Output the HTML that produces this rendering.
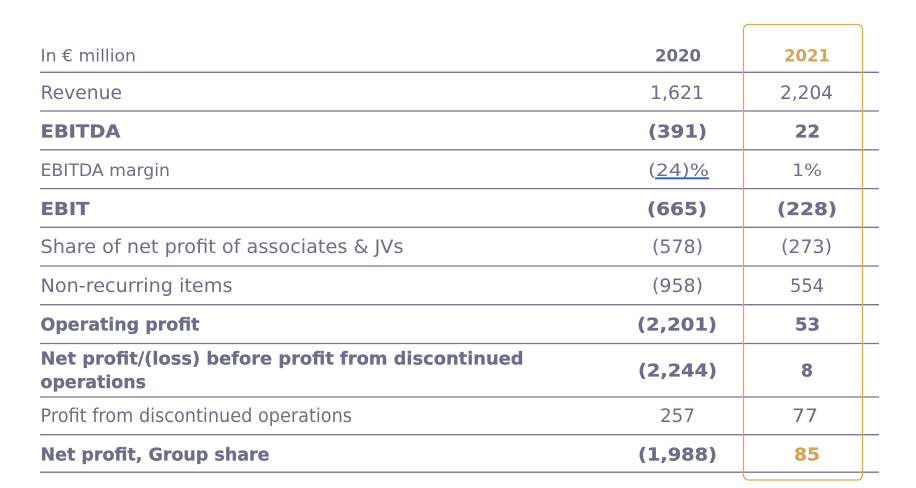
<!DOCTYPE html>
<html>
<head>
<meta charset="utf-8">
<style>
  html,body{margin:0;padding:0;background:#fff;}
  svg{display:block;}
  text{font-family:"DejaVu Sans","Liberation Sans",sans-serif;fill:#6d6d87;}
  .b{font-weight:bold;}
  .n{font-size:18.5px;}
  .bb{font-size:18px;font-weight:bold;stroke:#6d6d87;stroke-width:0.25px;}
  .s{font-size:17px;}
  .g{fill:#d6a45a;}
  .bb.g{stroke:#d6a45a;}
</style>
</head>
<body>
<svg width="916" height="488" viewBox="0 0 916 488" xmlns="http://www.w3.org/2000/svg">
  <g stroke="#78788c" stroke-width="1.3">
    <line x1="40" y1="72.3" x2="879" y2="72.3"/>
    <line x1="40" y1="111" x2="879" y2="111"/>
    <line x1="40" y1="149.8" x2="879" y2="149.8"/>
    <line x1="40" y1="188.6" x2="879" y2="188.6"/>
    <line x1="40" y1="227.3" x2="879" y2="227.3"/>
    <line x1="40" y1="266" x2="879" y2="266"/>
    <line x1="40" y1="304.7" x2="879" y2="304.7"/>
    <line x1="40" y1="343.5" x2="879" y2="343.5"/>
    <line x1="40" y1="397" x2="879" y2="397"/>
    <line x1="40" y1="434.7" x2="879" y2="434.7"/>
    <line x1="40" y1="472.2" x2="879" y2="472.2"/>
  </g>

  <!-- Header -->
  <text class="s" x="40.5" y="61.7" textLength="95.5" lengthAdjust="spacingAndGlyphs">In € million</text>
  <text class="s b" x="655" y="61.7" textLength="46" lengthAdjust="spacingAndGlyphs">2020</text>
  <text class="s b g" x="784" y="61.7" textLength="46" lengthAdjust="spacingAndGlyphs">2021</text>

  <!-- Revenue -->
  <text class="n" x="40.5" y="99" textLength="81.5" lengthAdjust="spacingAndGlyphs">Revenue</text>
  <text class="n" x="650" y="99" textLength="54" lengthAdjust="spacingAndGlyphs">1,621</text>
  <text class="n" x="780" y="99" textLength="53" lengthAdjust="spacingAndGlyphs">2,204</text>

  <!-- EBITDA -->
  <text class="bb" x="40.5" y="137.5" textLength="80" lengthAdjust="spacingAndGlyphs">EBITDA</text>
  <text class="bb" x="648" y="137.5" textLength="59" lengthAdjust="spacingAndGlyphs">(391)</text>
  <text class="bb" x="795" y="137.5" textLength="25" lengthAdjust="spacingAndGlyphs">22</text>

  <!-- EBITDA margin -->
  <text class="s" x="40.5" y="176" textLength="129.5" lengthAdjust="spacingAndGlyphs">EBITDA margin</text>
  <text class="s" x="648" y="176" textLength="61" lengthAdjust="spacingAndGlyphs">(24)%</text>
  <rect x="655" y="177.3" width="54" height="2" fill="#2f63d6"/>
  <text class="s" x="792" y="176" textLength="30" lengthAdjust="spacingAndGlyphs">1%</text>

  <!-- EBIT -->
  <text class="bb" x="40.5" y="214.8" textLength="49" lengthAdjust="spacingAndGlyphs">EBIT</text>
  <text class="bb" x="647" y="214.8" textLength="60" lengthAdjust="spacingAndGlyphs">(665)</text>
  <text class="bb" x="777" y="214.8" textLength="60" lengthAdjust="spacingAndGlyphs">(228)</text>

  <!-- Share -->
  <text class="n" x="40.5" y="253" textLength="363" lengthAdjust="spacingAndGlyphs">Share of net profit of associates &amp; JVs</text>
  <text class="n" x="652" y="253" textLength="51" lengthAdjust="spacingAndGlyphs">(578)</text>
  <text class="n" x="781" y="253" textLength="51" lengthAdjust="spacingAndGlyphs">(273)</text>

  <!-- Non-recurring -->
  <text class="n" x="40.5" y="292" textLength="192" lengthAdjust="spacingAndGlyphs">Non-recurring items</text>
  <text class="n" x="652" y="292" textLength="51" lengthAdjust="spacingAndGlyphs">(958)</text>
  <text class="n" x="790" y="292" textLength="34" lengthAdjust="spacingAndGlyphs">554</text>

  <!-- Operating profit -->
  <text class="bb" x="40.5" y="330.5" textLength="159" lengthAdjust="spacingAndGlyphs">Operating profit</text>
  <text class="bb" x="637" y="330.5" textLength="80" lengthAdjust="spacingAndGlyphs">(2,201)</text>
  <text class="bb" x="795" y="330.5" textLength="25" lengthAdjust="spacingAndGlyphs">53</text>

  <!-- Net profit before -->
  <text class="bb" x="40.5" y="364.3" textLength="483" lengthAdjust="spacingAndGlyphs">Net profit/(loss) before profit from discontinued</text>
  <text class="bb" x="40.5" y="387.8" textLength="105.5" lengthAdjust="spacingAndGlyphs">operations</text>
  <text class="bb" x="638" y="376.3" textLength="79" lengthAdjust="spacingAndGlyphs">(2,244)</text>
  <text class="bb" x="801" y="376.3" textLength="12" lengthAdjust="spacingAndGlyphs">8</text>

  <!-- Profit from discontinued -->
  <text class="n" x="40.5" y="422" textLength="311.5" lengthAdjust="spacingAndGlyphs">Profit from discontinued operations</text>
  <text class="n" x="660" y="422" textLength="35" lengthAdjust="spacingAndGlyphs">257</text>
  <text class="n" x="792" y="422" textLength="26" lengthAdjust="spacingAndGlyphs">77</text>

  <!-- Net profit group share -->
  <text class="bb" x="40.5" y="460.3" textLength="229" lengthAdjust="spacingAndGlyphs">Net profit, Group share</text>
  <text class="bb" x="638" y="460.3" textLength="79" lengthAdjust="spacingAndGlyphs">(1,988)</text>
  <text class="bb g" x="794" y="460.3" textLength="26" lengthAdjust="spacingAndGlyphs">85</text>

  <!-- 2021 highlight box -->
  <rect x="743.5" y="24.5" width="119" height="455.5" rx="5" ry="5" fill="none" stroke="#d9a85c" stroke-width="1.3"/>
</svg>
</body>
</html>
